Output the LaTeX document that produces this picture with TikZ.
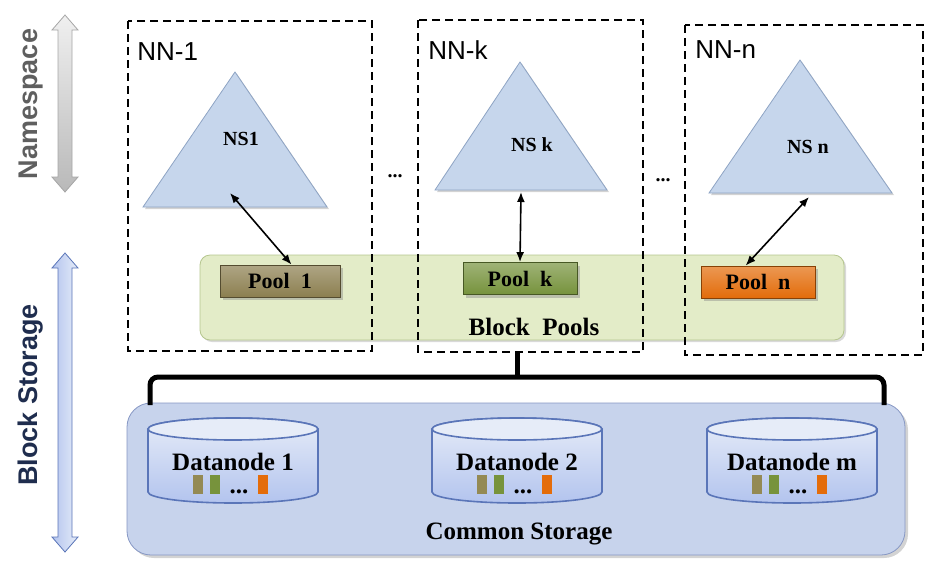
\documentclass[tikz,border=0pt]{standalone}
\usepackage{fontspec}
\setmainfont{Liberation Serif}
\newfontfamily\sansfont{Liberation Sans}
\usepackage{xcolor}
\usepackage{tikz}
\usetikzlibrary{arrows.meta, positioning, shapes, shadows}
\definecolor{nsblue}{HTML}{C6D6EC}
\definecolor{nsedge}{HTML}{8EA4C4}
\definecolor{poolsbg}{HTML}{E3ECC8}
\definecolor{poolsedge}{HTML}{B5C68E}
\definecolor{poololive}{HTML}{8C7F50}
\definecolor{poolgreen}{HTML}{76923C}
\definecolor{poolorange}{HTML}{E36C0A}
\definecolor{storebg}{HTML}{C7D3EC}
\definecolor{storeedge}{HTML}{8697C4}
\definecolor{dnedge}{HTML}{5A75B8}
\definecolor{dnbody}{HTML}{B3C4EE}
\definecolor{dntop}{HTML}{E6ECF8}
\definecolor{barolive}{HTML}{948A54}
\definecolor{bargreen}{HTML}{77933C}
\definecolor{barorange}{HTML}{E46C0A}
\definecolor{nsgray}{HTML}{5F5F5F}
\definecolor{bsnavy}{HTML}{1F2D4E}

\begin{document}
\begin{tikzpicture}[
    x=0.5pt, y=-0.5pt,
    nnbox/.style={draw, line width=1.1pt, dash pattern=on 4pt off 2.5pt},
    nnlabel/.style={anchor=north west, inner sep=0pt, font=\sansfont\fontsize{13}{15}\selectfont},
    nstri/.style={fill=nsblue, draw=nsedge, drop shadow={opacity=0.35, shadow xshift=1pt, shadow yshift=-1pt}},
    nslabel/.style={font=\bfseries\fontsize{10}{12}\selectfont},
    pool/.style={draw=#1!60!black, top color=#1!70!white, bottom color=#1, minimum width=57pt, minimum height=16pt, inner sep=0pt,
        font=\bfseries\fontsize{11}{13}\selectfont, drop shadow={opacity=0.4, shadow xshift=1.5pt, shadow yshift=-1.5pt}},
    pools/.style={draw=poolsedge, fill=poolsbg, rounded corners=5pt, minimum width=322pt, minimum height=42.5pt,
        drop shadow={opacity=0.3, shadow xshift=1pt, shadow yshift=-1pt}},
    store/.style={draw=storeedge, fill=storebg, rounded corners=12pt, minimum width=389pt, minimum height=76pt,
        drop shadow={opacity=0.35, shadow xshift=1.5pt, shadow yshift=-1.5pt}},
    boxlabel/.style={font=\bfseries\fontsize{12.5}{14}\selectfont},
    link/.style={{Latex[length=5pt,width=4pt]}-{Latex[length=5pt,width=4pt]}, thick},
    bracket/.style={line width=2.5pt, rounded corners=4pt},
    sidelabel/.style={rotate=90, font=\sansfont\bfseries\fontsize{13.5}{15}\selectfont}
]
\useasboundingbox (0,0) rectangle (948,574);

% Side arrows
\draw[gray!70, top color=gray!12, bottom color=gray!55]
    (65,15) -- (78,30) -- (72,30) -- (72,177) -- (78,177) -- (65,192) -- (52,177) -- (58,177) -- (58,30) -- (52,30) -- cycle;
\draw[dnedge, left color=dnbody, right color=dntop]
    (65,253) -- (78,268) -- (72,268) -- (72,537) -- (78,537) -- (65,552) -- (52,537) -- (58,537) -- (58,268) -- (52,268) -- cycle;
\node[sidelabel, text=nsgray] (namespace) at (31,104) {Namespace};
\node[sidelabel, text=bsnavy] (blockstorage) at (31,395) {Block Storage};

% Block pools
\node[pools] (pools) at (522,297.5) {};
\node[boxlabel] (poolslabel) at (534,327) {Block\ \ Pools};

% Namenodes
\draw[nnbox] (128,21) rectangle (372,351);
\draw[nnbox] (418,20) rectangle (643,352);
\draw[nnbox] (685,25) rectangle (923,355);
\node[nnlabel] (nn1) at (137,42) {NN-1};
\node[nnlabel] (nnk) at (428,40) {NN-k};
\node[nnlabel] (nnn) at (695,40) {NN-n};

% Namespaces
\draw[nstri] (235,72) -- (327,207) -- (143,207) -- cycle;
\draw[nstri] (520,62) -- (607,190) -- (435,190) -- cycle;
\draw[nstri] (800,60) -- (892,193) -- (709,193) -- cycle;
\node[nslabel] (ns1) at (241,139) {NS1};
\node[nslabel] (nsk) at (532,145) {NS k};
\node[nslabel] (nsn) at (808,147) {NS n};
\node[font=\bfseries] (dots1) at (395,176) {...};
\node[font=\bfseries] (dots2) at (663,180) {...};
\coordinate (ns1foot) at (230,193);
\coordinate (nskfoot) at (521,192);
\coordinate (nsnfoot) at (809,197);

% Pools
\node[pool=poololive, minimum width=60pt] (pool1) at (280,281) {Pool\ \ 1};
\node[pool=poolgreen] (poolk) at (520,278.5) {Pool\ \ k};
\node[pool=poolorange] (pooln) at (758,282) {Pool\ \ n};

% Arrows
\draw[link] (ns1foot) -- (pool1.55);
\draw[link] (nskfoot) -- (poolk.north);
\draw[link] (nsnfoot) -- (pooln.127);

% Common storage
\node[store] (store) at (516,479) {};
\node[boxlabel] (storelabel) at (519,534) {Common Storage};
\coordinate (bracetop) at (517,352);
\coordinate (bracemid) at (517,377);
\draw[bracket] (150,405) -- (150,377) -- (884,377) -- (884,405);
\draw[line width=2.5pt] (bracetop) -- (bracemid);

% Datanodes
\foreach \cx/\name/\lbl in {233/dn1/Datanode 1, 517/dn2/Datanode 2, 792/dnm/Datanode m} {
    \draw[dnedge, thick, top color=dntop, bottom color=dnbody]
        (\cx-85,429) -- (\cx-85,492) arc[start angle=180, end angle=0, x radius=85, y radius=11]
        -- (\cx+85,429) arc[start angle=0, end angle=-180, x radius=85, y radius=11] -- cycle;
    \draw[dnedge, thick, fill=dntop] (\cx,429) ellipse [x radius=85, y radius=11];
    \node[boxlabel] (\name) at (\cx,462) {\lbl};
    \fill[barolive] (\cx-40,475) rectangle ++(10,19);
    \fill[bargreen] (\cx-23,475) rectangle ++(10,19);
    \node[boxlabel, inner sep=0pt, anchor=base] (\name dots) at (\cx+6,493) {...};
    \fill[barorange] (\cx+25,475) rectangle ++(10,19);
}

\end{tikzpicture}
\end{document}
